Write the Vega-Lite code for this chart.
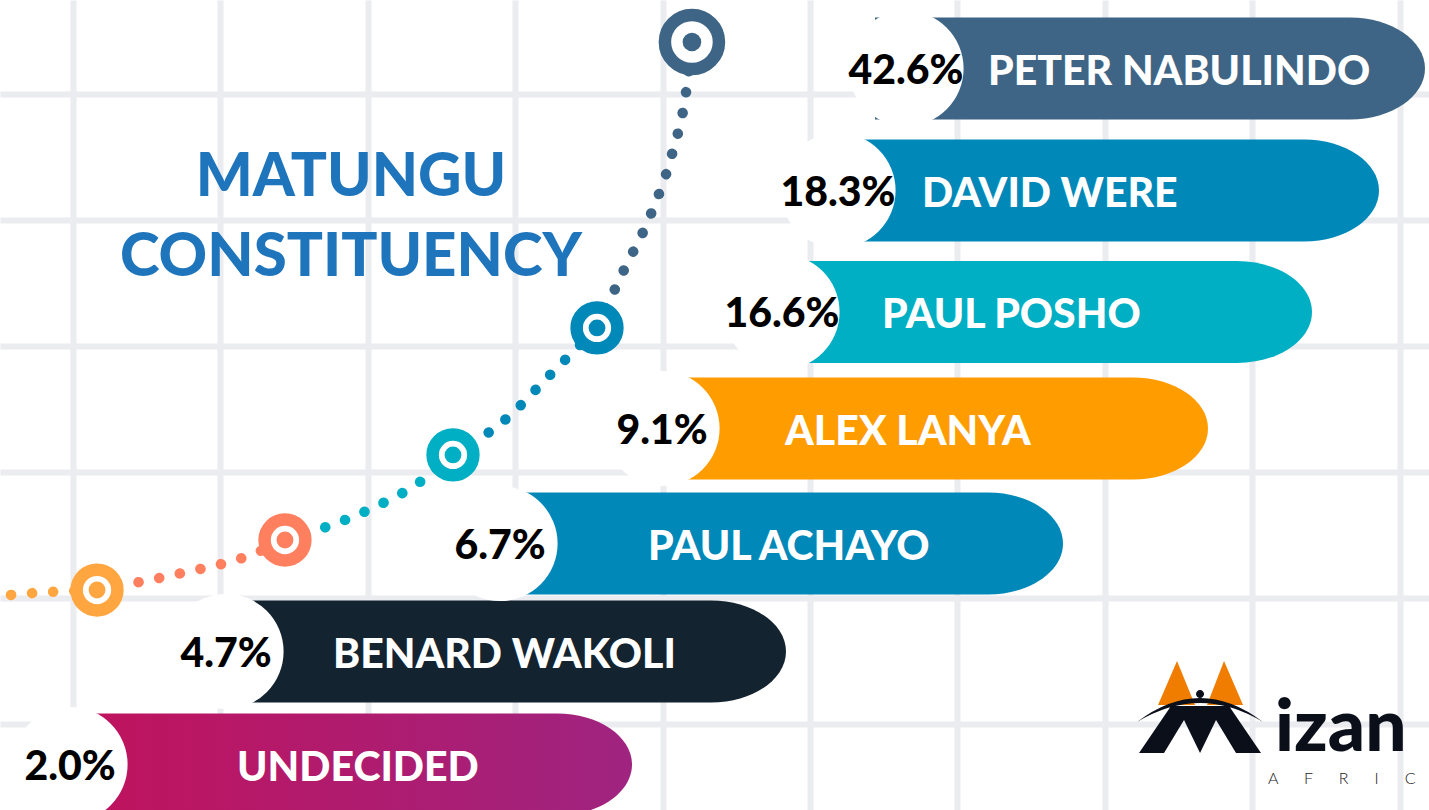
{
  "$schema": "https://vega.github.io/schema/vega-lite/v6.json",
  "width": 1429,
  "height": 810,
  "padding": 0,
  "autosize": {"type": "none"},
  "background": "#ffffff",
  "config": {"view": {"stroke": null}},
  "datasets": {
    "poll": [
      {"candidate": "PETER NABULINDO", "share": 0.426},
      {"candidate": "DAVID WERE", "share": 0.183},
      {"candidate": "PAUL POSHO", "share": 0.166},
      {"candidate": "ALEX LANYA", "share": 0.091},
      {"candidate": "PAUL ACHAYO", "share": 0.067},
      {"candidate": "BENARD WAKOLI", "share": 0.047},
      {"candidate": "UNDECIDED", "share": 0.02}
    ],
    "curve": [
      {"seg": "s1", "u": -0.563, "v": 3.992},
      {"seg": "s1", "u": -0.258, "v": 3.96},
      {"seg": "s1", "u": 0.163, "v": 3.937},
      {"seg": "s2", "u": 0.163, "v": 3.937},
      {"seg": "s2", "u": 0.739, "v": 3.802},
      {"seg": "s2", "u": 1.167, "v": 3.675},
      {"seg": "s2", "u": 1.438, "v": 3.54},
      {"seg": "s3", "u": 1.438, "v": 3.54},
      {"seg": "s3", "u": 1.974, "v": 3.317},
      {"seg": "s3", "u": 2.354, "v": 3.079},
      {"seg": "s3", "u": 2.578, "v": 2.865},
      {"seg": "s4", "u": 2.578, "v": 2.865},
      {"seg": "s4", "u": 2.938, "v": 2.579},
      {"seg": "s4", "u": 3.236, "v": 2.23},
      {"seg": "s4", "u": 3.555, "v": 1.857},
      {"seg": "s5", "u": 3.555, "v": 1.857},
      {"seg": "s5", "u": 3.731, "v": 1.413},
      {"seg": "s5", "u": 3.921, "v": 0.952},
      {"seg": "s5", "u": 4.064, "v": 0.476},
      {"seg": "s5", "u": 4.159, "v": -0.016},
      {"seg": "s5", "u": 4.199, "v": -0.413}
    ],
    "markers": [
      {"seg": "s1", "u": 0.163, "v": 3.937},
      {"seg": "s2", "u": 1.438, "v": 3.54},
      {"seg": "s3", "u": 2.578, "v": 2.865},
      {"seg": "s4", "u": 3.555, "v": 1.857},
      {"seg": "s5", "u": 4.199, "v": -0.413}
    ]
  },
  "layer": [
    {
      "layer": [
        {
          "data": {"name": "curve"},
          "mark": {"type": "line", "interpolate": "monotone", "strokeWidth": 10.5, "strokeCap": "round", "strokeDash": [0.1, 21]},
          "encoding": {
            "x": {"field": "u", "type": "quantitative", "scale": {"domain": [-0.4953, 9.1995], "nice": false, "zero": false},
                  "axis": {"values": [0, 1, 2, 3, 4, 5, 6, 7, 8, 9], "grid": true, "gridColor": "#ebecf0", "gridWidth": 6, "labels": false, "ticks": false, "domain": false, "title": null}},
            "y": {"field": "v", "type": "quantitative", "scale": {"domain": [-0.746, 5.683], "reverse": true, "nice": false, "zero": false},
                  "axis": {"values": [0, 1, 2, 3, 4, 5], "grid": true, "gridColor": "#ebecf0", "gridWidth": 6, "labels": false, "ticks": false, "domain": false, "title": null}},
            "color": {"field": "seg", "type": "nominal", "scale": {"domain": ["s1", "s2", "s3", "s4", "s5"], "range": ["#ffa640", "#ff7f5f", "#00afc3", "#0088b9", "#3e6585"]}, "legend": null}
          }
        },
        {
          "data": {"name": "markers"},
          "mark": {"type": "point", "shape": "circle", "filled": true, "fill": "#ffffff", "opacity": 1, "strokeWidth": 12.5},
          "encoding": {
            "x": {"field": "u", "type": "quantitative"},
            "y": {"field": "v", "type": "quantitative"},
            "stroke": {"field": "seg", "type": "nominal", "scale": {"domain": ["s1", "s2", "s3", "s4", "s5"], "range": ["#ffa640", "#ff7f5f", "#00afc3", "#0088b9", "#3e6585"]}, "legend": null},
            "size": {"condition": {"test": "datum.seg === 's5'", "value": 2922}, "value": 1662}
          }
        },
        {
          "data": {"name": "markers"},
          "mark": {"type": "point", "shape": "circle", "filled": true, "opacity": 1},
          "encoding": {
            "x": {"field": "u", "type": "quantitative"},
            "y": {"field": "v", "type": "quantitative"},
            "color": {"field": "seg", "type": "nominal", "scale": {"domain": ["s1", "s2", "s3", "s4", "s5"], "range": ["#ffa640", "#ff7f5f", "#00afc3", "#0088b9", "#3e6585"]}, "legend": null},
            "size": {"condition": {"test": "datum.seg === 's5'", "value": 346}, "value": 283}
          }
        },
        {
          "data": {"values": [{"title": "MATUNGU CONSTITUENCY"}]},
          "mark": {"type": "text", "align": "center", "baseline": "alphabetic", "font": "Lato", "fontWeight": 900, "fontSize": 60, "lineHeight": 80, "color": "#1e75bc"},
          "encoding": {
            "x": {"datum": 1.886, "type": "quantitative"},
            "y": {"datum": 0.81, "type": "quantitative"},
            "text": {"value": ["MATUNGU", "CONSTITUENCY"]}
          }
        },
        {
          "data": {"values": [{"logo": "Mizan Africa"}]},
          "mark": {"type": "point", "shape": "M -42 -21 L -23 -65 L -5 -21 Z M 7 -21 L 24 -65 L 43 -21 Z", "size": 4, "filled": true, "opacity": 1, "fill": "#f07d00"},
          "encoding": {
            "x": {"datum": 7.646, "type": "quantitative"},
            "y": {"datum": 5.016, "type": "quantitative"}
          }
        },
        {
          "data": {"values": [{"logo": "Mizan Africa"}]},
          "mark": {"type": "point", "shape": "M -61 27 L -29 -20 L 29 -20 L 61 27 L 36 27 L 16 -6 L 0 27 L -16 -6 L -36 27 Z M -63 -4 Q 0 -52 63 -4 Q 0 -42 -63 -4 Z M -4 -32 A 4 4 0 1 0 4 -32 A 4 4 0 1 0 -4 -32 Z", "size": 4, "filled": true, "opacity": 1, "fill": "#0b0f1a"},
          "encoding": {
            "x": {"datum": 7.646, "type": "quantitative"},
            "y": {"datum": 5.016, "type": "quantitative"}
          }
        },
        {
          "data": {"values": [{"logo": "Mizan Africa"}]},
          "mark": {"type": "text", "align": "left", "baseline": "alphabetic", "font": "Lato", "fontWeight": 900, "fontSize": 73, "color": "#0b0f1a"},
          "encoding": {
            "x": {"datum": 8.155, "type": "quantitative"},
            "y": {"datum": 5.214, "type": "quantitative"},
            "text": {"value": "izan"}
          }
        },
        {
          "data": {"values": [{"logo": "Mizan Africa"}]},
          "mark": {"type": "text", "align": "left", "baseline": "alphabetic", "font": "Lato", "fontWeight": 300, "fontSize": 16, "color": "#222222"},
          "encoding": {
            "x": {"datum": 8.107, "type": "quantitative"},
            "y": {"datum": 5.476, "type": "quantitative"},
            "text": {"value": "A\u00a0\u00a0\u00a0\u00a0\u00a0\u00a0F\u00a0\u00a0\u00a0\u00a0\u00a0\u00a0R\u00a0\u00a0\u00a0\u00a0\u00a0\u00a0I\u00a0\u00a0\u00a0\u00a0\u00a0\u00a0C"}
          }
        }
      ]
    },
    {
      "data": {"name": "poll"},
      "encoding": {
        "y": {"field": "share", "type": "quantitative", "scale": {"domain": [0.02, 0.047, 0.067, 0.091, 0.166, 0.183, 0.426], "range": [764.5, 651.5, 543.5, 428.5, 312, 190.5, 68.5], "nice": false, "zero": false}, "axis": null}
      },
      "layer": [
        {
          "layer": [
            {
              "transform": [{"filter": "datum.candidate !== 'UNDECIDED'"}],
              "mark": {"type": "point", "shape": "M -550 -51 L -75 -51 A 75 51 0 0 1 0 0 A 75 51 0 0 1 -75 51 L -550 51 Z", "size": 4, "filled": true, "opacity": 1},
              "encoding": {
                "x": {"field": "share", "type": "quantitative", "scale": {"domain": [0.02, 0.047, 0.067, 0.091, 0.166, 0.183, 0.426], "range": [632, 786, 1063, 1208, 1312, 1379, 1425], "nice": false, "zero": false}, "axis": null},
                "color": {"field": "candidate", "type": "nominal", "scale": {"domain": ["PETER NABULINDO", "DAVID WERE", "PAUL POSHO", "ALEX LANYA", "PAUL ACHAYO", "BENARD WAKOLI"], "range": ["#3e6585", "#0088b9", "#00afc3", "#ff9c00", "#0088b9", "#132330"]}, "legend": null}
              }
            },
            {
              "transform": [{"filter": "datum.candidate === 'UNDECIDED'"}],
              "mark": {"type": "point", "shape": "M -550 -51 L -75 -51 A 75 51 0 0 1 0 0 A 75 51 0 0 1 -75 51 L -550 51 Z", "size": 4, "filled": true, "opacity": 1,
                       "fill": {"gradient": "linear", "x1": 0, "y1": 0, "x2": 1, "y2": 0, "stops": [{"offset": 0, "color": "#c0135d"}, {"offset": 1, "color": "#9f2480"}]}},
              "encoding": {
                "x": {"field": "share", "type": "quantitative", "scale": {"domain": [0.02, 0.047, 0.067, 0.091, 0.166, 0.183, 0.426], "range": [632, 786, 1063, 1208, 1312, 1379, 1425], "nice": false, "zero": false}, "axis": null}
              }
            }
          ]
        },
        {
          "layer": [
            {
              "mark": {"type": "point", "shape": "circle", "size": 13273, "filled": true, "fill": "#ffffff", "opacity": 1},
              "encoding": {
                "x": {"field": "share", "type": "quantitative", "scale": {"domain": [0.02, 0.047, 0.067, 0.091, 0.166, 0.183, 0.426], "range": [70, 226, 500, 662, 782, 838, 906], "nice": false, "zero": false}, "axis": null}
              }
            },
            {
              "mark": {"type": "text", "align": "center", "baseline": "alphabetic", "dy": 15, "font": "Lato", "fontWeight": 900, "fontSize": 41, "color": "#000000"},
              "encoding": {
                "x": {"field": "share", "type": "quantitative", "scale": {"domain": [0.02, 0.047, 0.067, 0.091, 0.166, 0.183, 0.426], "range": [70, 226, 500, 662, 782, 838, 906], "nice": false, "zero": false}, "axis": null},
                "text": {"field": "share", "type": "quantitative", "format": ".1%"}
              }
            }
          ]
        },
        {
          "mark": {"type": "text", "align": "left", "baseline": "alphabetic", "dy": 16, "font": "Lato", "fontWeight": 900, "fontSize": 41, "color": "#ffffff"},
          "encoding": {
            "x": {"field": "share", "type": "quantitative", "scale": {"domain": [0.02, 0.047, 0.067, 0.091, 0.166, 0.183, 0.426], "range": [237, 333, 648, 785, 882, 922, 988], "nice": false, "zero": false}, "axis": null},
            "text": {"field": "candidate", "type": "nominal"}
          }
        }
      ],
      "resolve": {"scale": {"x": "independent"}}
    }
  ],
  "resolve": {"scale": {"x": "independent", "y": "independent", "color": "independent"}}
}
